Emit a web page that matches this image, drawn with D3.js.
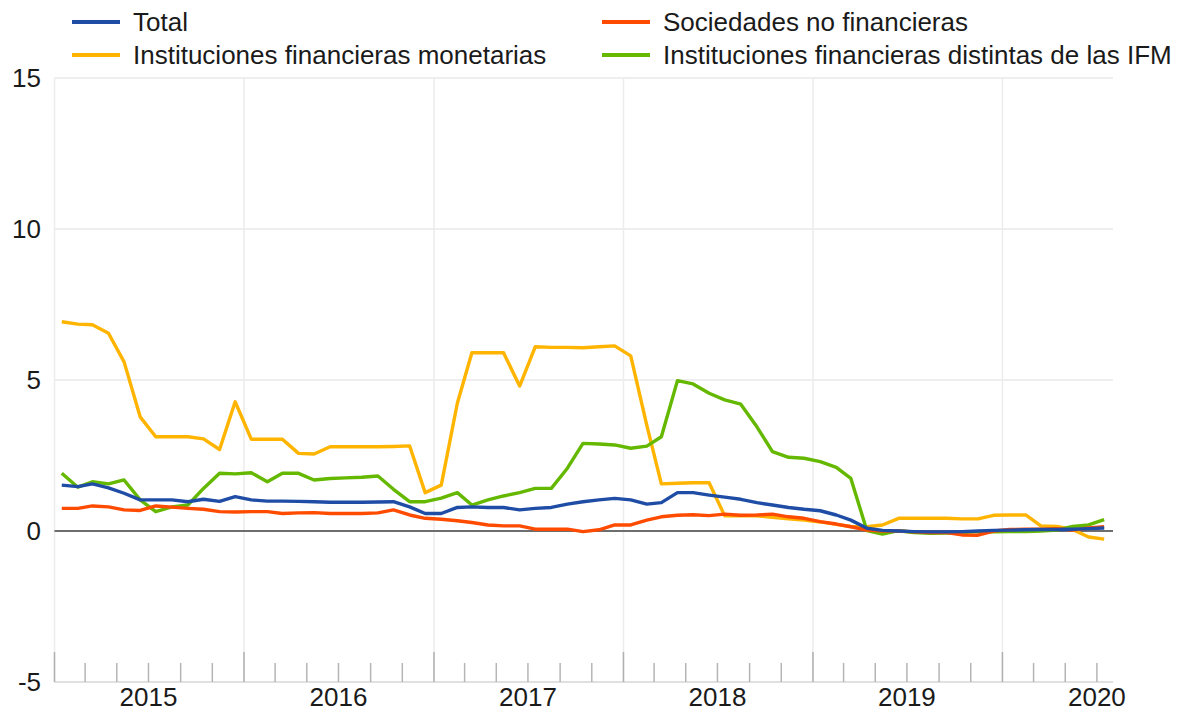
<!DOCTYPE html>
<html lang="es">
<head>
<meta charset="UTF-8" />
<title>Valores representativos de deuda</title>
<script src="https://d3js.org/d3.v7.min.js"></script>
<style>
    body { margin: 0; background: #fff; font-family: "Liberation Sans", Arial, sans-serif; }
</style>
</head>
<body>
<div id="chart"></div>
<script>
    // monthly observations, Jan 2015 - Jul 2020
    const months = d3.range(67).map(i => new Date(2015, i, 15));

    const seriesNames = ["Total", "Sociedades no financieras",
        "Instituciones financieras monetarias", "Instituciones financieras distintas de las IFM"];

    const total = [1.52, 1.47, 1.56, 1.43, 1.25, 1.03, 1.03, 1.03, 0.97, 1.05, 0.98, 1.14,
        1.03, 0.99, 0.99, 0.98, 0.97, 0.95, 0.95, 0.95, 0.96, 0.97, 0.80, 0.58,
        0.58, 0.78, 0.80, 0.78, 0.78, 0.70, 0.75, 0.78, 0.89, 0.97, 1.03, 1.08,
        1.03, 0.89, 0.94, 1.27, 1.27, 1.19, 1.12, 1.05, 0.94, 0.86, 0.78, 0.72,
        0.67, 0.53, 0.36, 0.09, 0.02, 0.00, -0.02, -0.03, -0.03, -0.02, 0.00, 0.02,
        0.03, 0.04, 0.05, 0.05, 0.06, 0.08, 0.10];

    const sociedades = [0.75, 0.75, 0.83, 0.80, 0.70, 0.68, 0.83, 0.79, 0.75, 0.72, 0.64, 0.63,
        0.64, 0.64, 0.58, 0.60, 0.61, 0.58, 0.58, 0.58, 0.60, 0.70, 0.53, 0.42,
        0.39, 0.34, 0.28, 0.20, 0.17, 0.17, 0.06, 0.06, 0.06, -0.02, 0.04, 0.20,
        0.20, 0.36, 0.47, 0.52, 0.54, 0.51, 0.56, 0.52, 0.53, 0.56, 0.47, 0.42,
        0.31, 0.23, 0.14, 0.03, 0.00, 0.00, -0.03, -0.05, -0.05, -0.13, -0.14, 0.00,
        0.05, 0.06, 0.06, 0.08, 0.03, 0.10, 0.14];

    const ifm = [6.93, 6.85, 6.83, 6.55, 5.60, 3.78, 3.12, 3.12, 3.12, 3.05, 2.70, 4.28,
        3.04, 3.04, 3.04, 2.57, 2.55, 2.79, 2.79, 2.79, 2.79, 2.80, 2.82, 1.27,
        1.52, 4.23, 5.90, 5.90, 5.90, 4.80, 6.10, 6.08, 6.08, 6.07, 6.10, 6.13,
        5.80, 3.50, 1.56, 1.58, 1.60, 1.60, 0.50, 0.50, 0.50, 0.45, 0.40, 0.36,
        0.30, 0.22, 0.15, 0.14, 0.20, 0.42, 0.42, 0.42, 0.42, 0.40, 0.40, 0.52,
        0.53, 0.53, 0.17, 0.15, 0.05, -0.20, -0.27];

    const noIfm = [1.91, 1.45, 1.63, 1.56, 1.69, 1.03, 0.64, 0.80, 0.86, 1.41, 1.91, 1.89,
        1.93, 1.63, 1.91, 1.91, 1.69, 1.74, 1.76, 1.78, 1.82, 1.38, 0.97, 0.97,
        1.09, 1.27, 0.86, 1.03, 1.16, 1.27, 1.41, 1.41, 2.08, 2.90, 2.88, 2.85,
        2.74, 2.81, 3.12, 4.98, 4.87, 4.56, 4.34, 4.20, 3.45, 2.63, 2.44, 2.41,
        2.30, 2.11, 1.74, 0.01, -0.10, 0.01, -0.05, -0.08, -0.07, -0.05, -0.02, -0.03,
        -0.02, -0.02, 0.00, 0.03, 0.15, 0.20, 0.38];

    const yTicks = [-5, 0, 5, 10, 15];
    const yearLabels = [2015, 2016, 2017, 2018, 2019, 2020];

    const width = 1180, height = 716;
    const plotLeft = 54.5, plotRight = 1113, plotTop = 78, plotBottom = 682;

    const svg = d3.select("#chart").append("svg")
        .attr("width", width).attr("height", height);

    const x = d3.scaleTime()
        .domain([new Date(2015, 0, 1), new Date(2020, 7, 1)])
        .range([plotLeft, plotRight]);

    const y = d3.scaleLinear()
        .domain([-5, 15])
        .range([plotBottom, plotTop]);

    const color = d3.scaleOrdinal()
        .domain(seriesNames)
        .range(["#1f4da6", "#ff4b00", "#ffb400", "#65b800"]);

    // horizontal grid
    svg.append("g")
        .selectAll("line")
        .data(yTicks.filter(d => d > 0))
        .join("line")
        .attr("x1", plotLeft).attr("x2", plotRight)
        .attr("y1", d => y(d)).attr("y2", d => y(d))
        .attr("stroke", "#e9e9e9").attr("stroke-width", 1.5);

    // vertical grid at years
    const years = x.ticks(d3.timeYear.every(1));
    svg.append("g")
        .selectAll("line")
        .data(years)
        .join("line")
        .attr("x1", d => x(d)).attr("x2", d => x(d))
        .attr("y1", plotTop).attr("y2", plotBottom)
        .attr("stroke", "#ececec").attr("stroke-width", 1.5);

    // x axis: base line, minor and major ticks
    svg.append("line")
        .attr("x1", plotLeft).attr("x2", plotRight)
        .attr("y1", plotBottom).attr("y2", plotBottom)
        .attr("stroke", "#d6d6d6").attr("stroke-width", 1.5);

    svg.append("g")
        .selectAll("line")
        .data(x.ticks(d3.timeMonth.every(2)).filter(d => d.getMonth() !== 0))
        .join("line")
        .attr("x1", d => x(d)).attr("x2", d => x(d))
        .attr("y1", plotBottom - 19).attr("y2", plotBottom)
        .attr("stroke", "#b5b5b5").attr("stroke-width", 1.5);

    svg.append("g")
        .selectAll("line")
        .data(years)
        .join("line")
        .attr("x1", d => x(d)).attr("x2", d => x(d))
        .attr("y1", plotBottom - 30).attr("y2", plotBottom)
        .attr("stroke", "#b0b0b0").attr("stroke-width", 1.5);

    svg.append("g")
        .selectAll("text")
        .data(yearLabels)
        .join("text")
        .attr("x", d => x(new Date(d, 6, 1)))
        .attr("y", 706)
        .attr("text-anchor", "middle")
        .attr("font-size", 26)
        .attr("fill", "#1a1a1a")
        .text(d => d);

    // y labels
    svg.append("g")
        .selectAll("text")
        .data(yTicks)
        .join("text")
        .attr("x", 41)
        .attr("y", d => y(d))
        .attr("dy", "0.35em")
        .attr("text-anchor", "end")
        .attr("font-size", 26)
        .attr("fill", "#1a1a1a")
        .text(d => d);

    // zero line
    svg.append("line")
        .attr("x1", plotLeft).attr("x2", plotRight)
        .attr("y1", y(0)).attr("y2", y(0))
        .attr("stroke", "#6e6e6e").attr("stroke-width", 2);

    // lines
    const series = [
        { name: seriesNames[2], values: ifm },
        { name: seriesNames[3], values: noIfm },
        { name: seriesNames[1], values: sociedades },
        { name: seriesNames[0], values: total }
    ];

    const line = d3.line()
        .x((d, i) => x(months[i]))
        .y(d => y(d));

    svg.append("g")
        .selectAll("path")
        .data(series)
        .join("path")
        .attr("d", d => line(d.values))
        .attr("fill", "none")
        .attr("stroke", d => color(d.name))
        .attr("stroke-width", 3.4)
        .attr("stroke-linejoin", "round");

    // legend
    const legendPos = [
        { name: seriesNames[0], x: 72, y: 22 },
        { name: seriesNames[1], x: 602, y: 22 },
        { name: seriesNames[2], x: 72, y: 55 },
        { name: seriesNames[3], x: 602, y: 55 }
    ];
    const legend = svg.append("g");
    legendPos.forEach(p => {
        const g = legend.append("g").attr("transform", `translate(${p.x},${p.y})`);
        g.append("line")
            .attr("x1", 0).attr("x2", 48)
            .attr("stroke", color(p.name)).attr("stroke-width", 4);
        g.append("text")
            .attr("x", 61).attr("y", 0)
            .attr("dy", "0.35em")
            .attr("font-size", 26)
            .attr("fill", "#1a1a1a")
            .text(p.name);
    });
</script>
</body>
</html>
